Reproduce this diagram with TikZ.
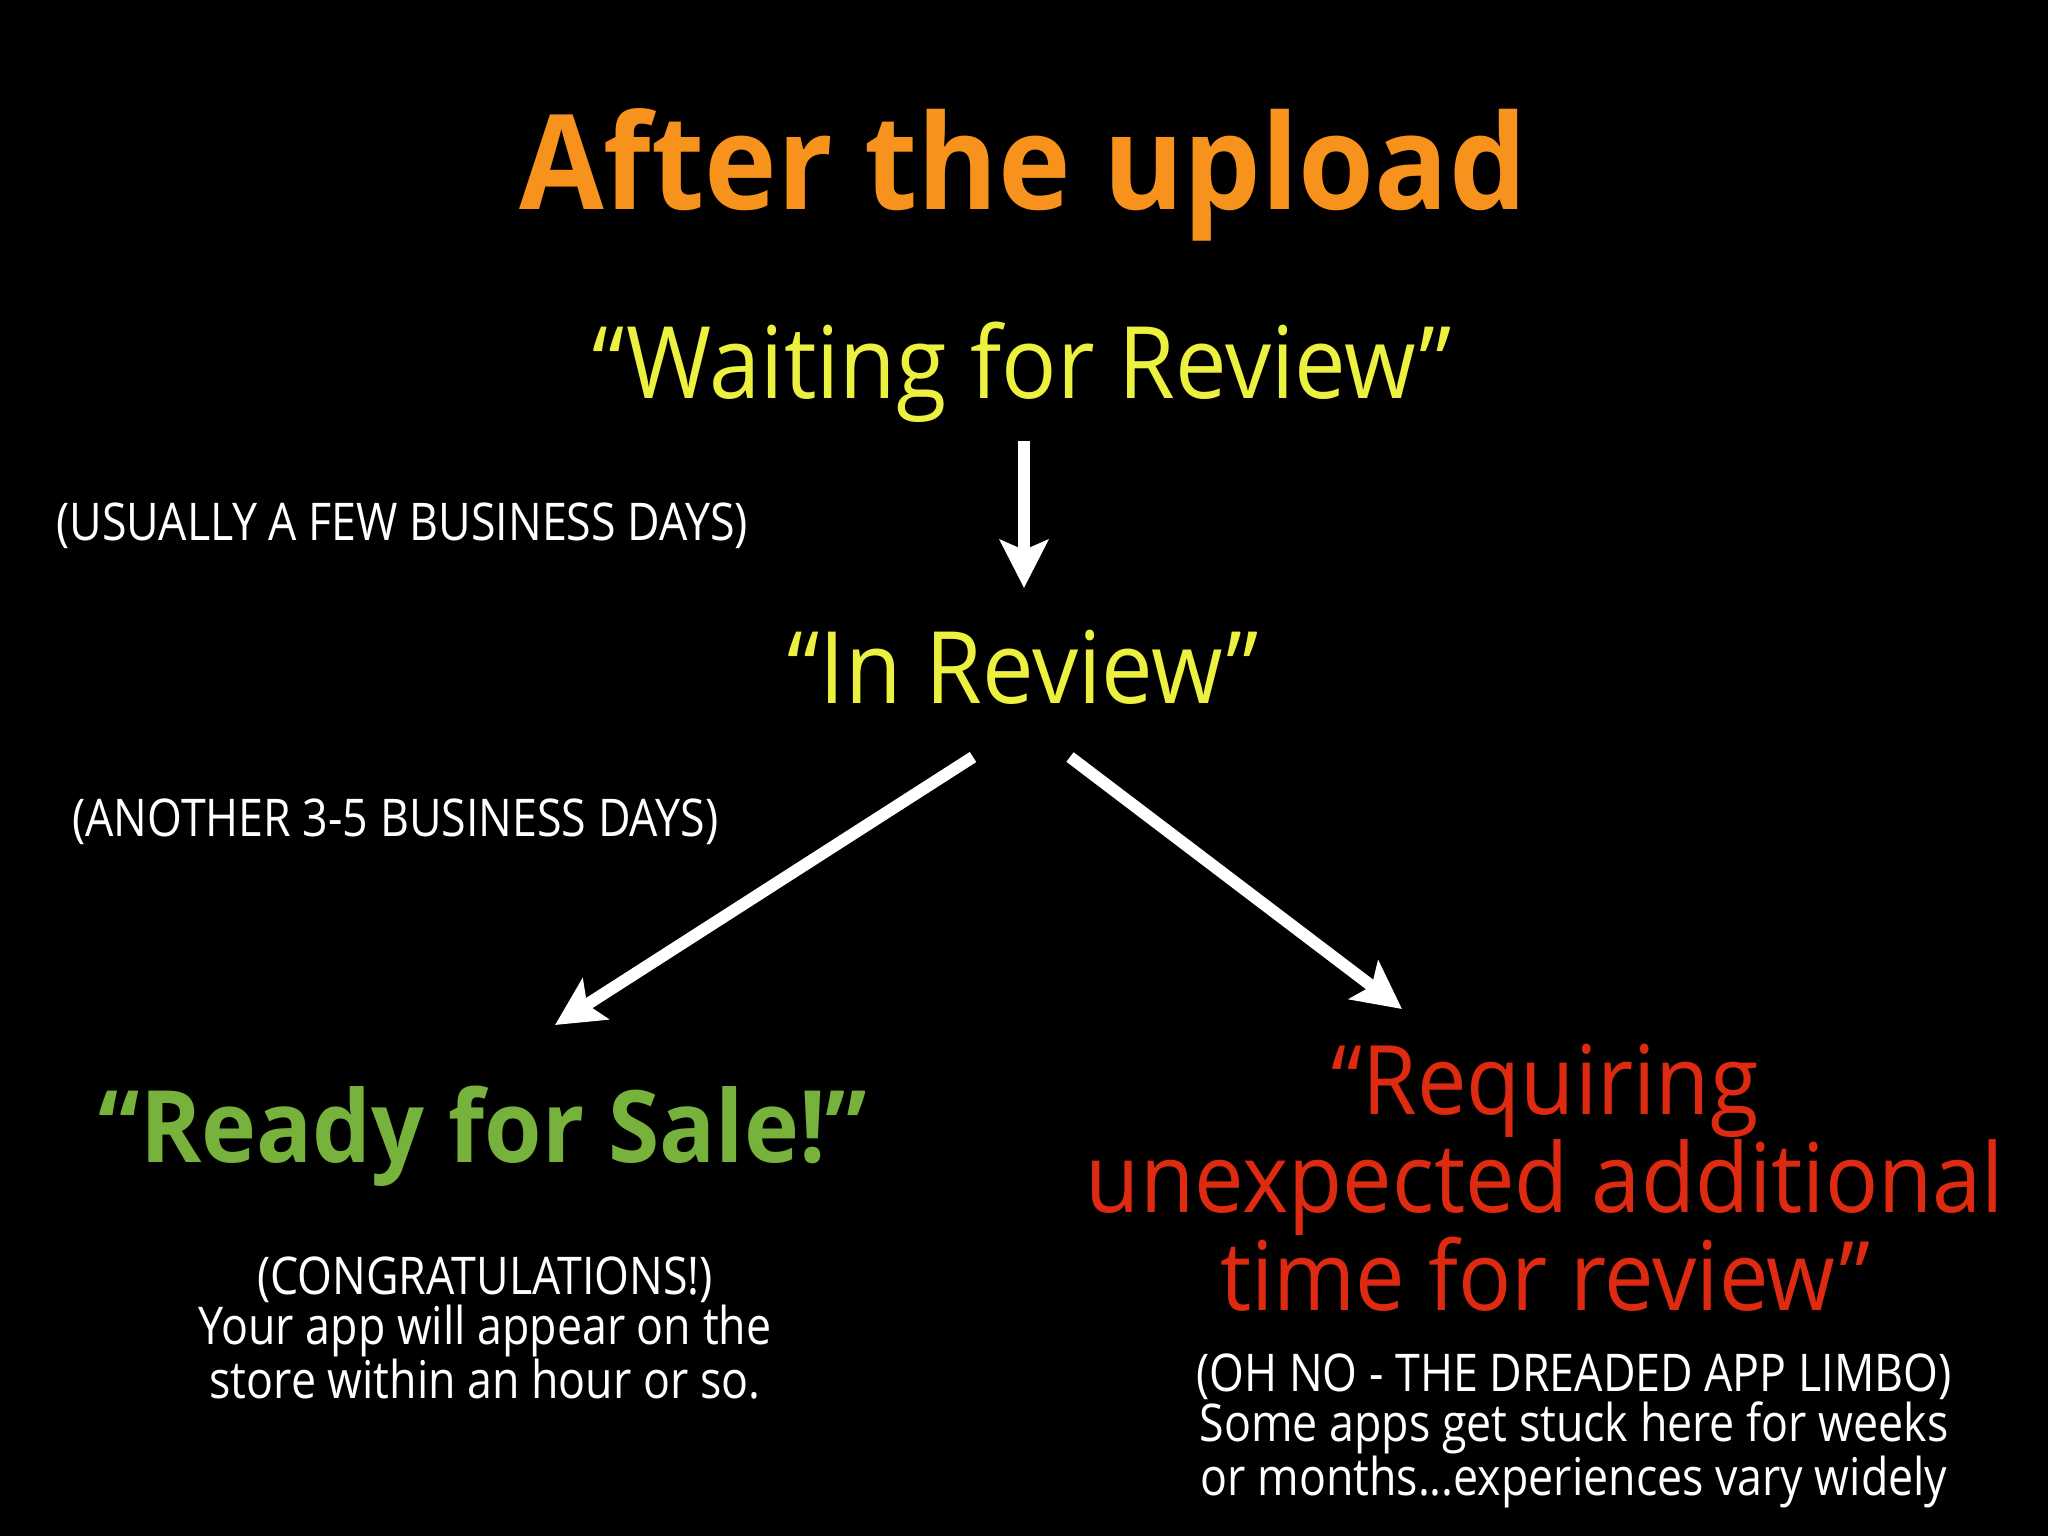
\documentclass[tikz,border=0pt]{standalone}
\usepackage{fontspec}
\setmainfont{Open Sans}
\newfontfamily\bigfont[FakeStretch=0.92]{Open Sans}
\newfontfamily\titlefont[FakeStretch=0.93]{Open Sans}
\newfontfamily\smallfont[FakeStretch=0.86]{Open Sans}
\usetikzlibrary{arrows.meta}
\definecolor{ttlorange}{RGB}{247,146,28}
\definecolor{stateyellow}{RGB}{236,240,62}
\definecolor{okgreen}{RGB}{118,178,60}
\definecolor{badred}{RGB}{222,42,16}
\tikzset{
  bigarrow/.style={draw=white, line width=6pt, -{Stealth[width=24pt,length=24pt,inset=5pt]}},
  statetext/.style={anchor=base, text=stateyellow, font=\bigfont\fontsize{50}{50}\selectfont, inner sep=0pt},
  note/.style={anchor=base, text=white, font=\smallfont\fontsize{26}{25}\selectfont, inner sep=0pt, align=center},
}
\begin{document}
\begin{tikzpicture}[x=0.5pt,y=-0.5pt]
\fill[black] (0,0) rectangle (2048,1536);
\useasboundingbox (0,0) rectangle (2048,1536);

\node[anchor=base, inner sep=0pt, text=ttlorange, font=\titlefont\fontsize{66}{66}\selectfont\bfseries] (title) at (1023,209) {After the upload};

\node[statetext] (wait) at (1022,398) {“Waiting for Review”};
\node[statetext] (inrev) at (1023,703) {“In Review”};

\node[note, anchor=base west] (usual) at (56,540) {(USUALLY A FEW BUSINESS DAYS)};
\node[note, anchor=base west] (another) at (72,836) {(ANOTHER 3-5 BUSINESS DAYS)};

\node[anchor=base, inner sep=0pt, text=okgreen, font=\titlefont\fontsize{50}{50}\selectfont\bfseries] (ready) at (483,1162) {“Ready for Sale!”};
\node[note] (congr) at (485,1398) {(CONGRATULATIONS!)\\Your app will appear on the\\store within an hour or so.};

\node[anchor=base, inner sep=0pt, text=badred, align=center, font=\bigfont\fontsize{48}{49}\selectfont] (limbo) at (1545,1310) {“Requiring\\unexpected additional\\time for review”};
\node[note] (limbonote) at (1574,1495) {(OH NO - THE DREADED APP LIMBO)\\Some apps get stuck here for weeks\\or months...experiences vary widely};

\coordinate (d1) at (1024,441);
\coordinate (d2) at (1024,588);
\coordinate (l1) at (973,757);
\coordinate (l2) at (555,1025);
\coordinate (r1) at (1070,757);
\coordinate (r2) at (1402,1009);

\draw[bigarrow] (d1) -- (d2);
\draw[bigarrow] (l1) -- (l2);
\draw[bigarrow] (r1) -- (r2);
\end{tikzpicture}
\end{document}
